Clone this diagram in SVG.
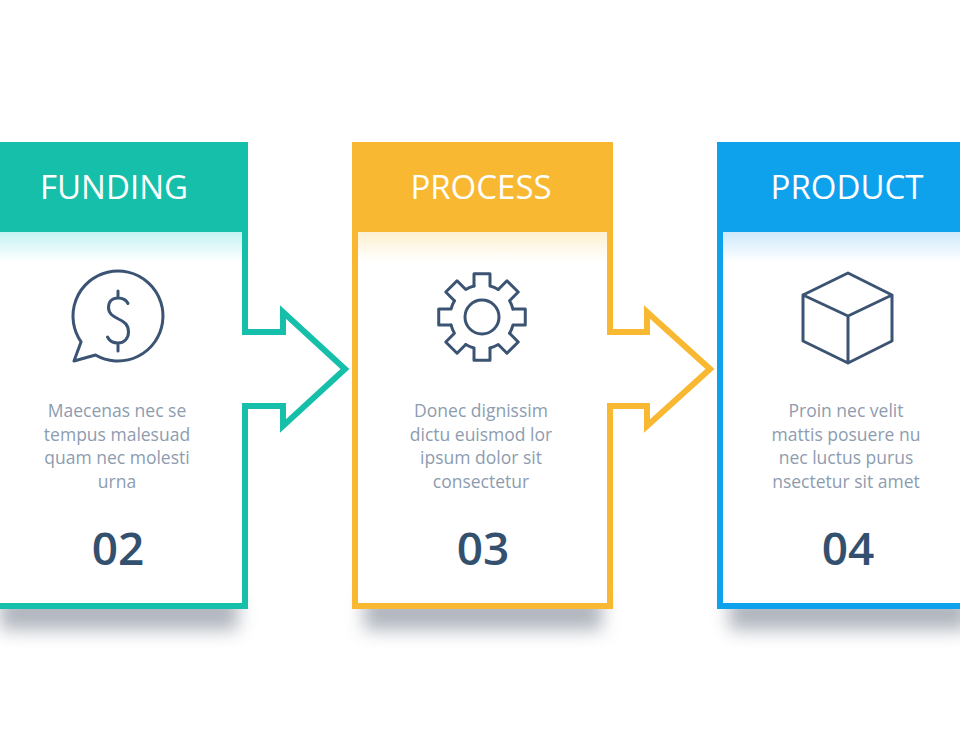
<svg xmlns="http://www.w3.org/2000/svg" width="960" height="750" viewBox="0 0 960 750">
<defs>
<style>
.box{fill:#ffffff;stroke-width:6;stroke-linejoin:miter}
.hdr{font-family:"Open Sans","Noto Sans",sans-serif;font-size:33px;fill:#ffffff;text-anchor:middle}
.body{font-family:"Open Sans","Noto Sans",sans-serif;font-size:17.5px;fill:#8d9caf;text-anchor:middle}
.num{font-family:"Open Sans","Noto Sans",sans-serif;font-size:46px;font-weight:600;fill:#34506f;text-anchor:middle}
.icon{fill:none;stroke:#3b5473;stroke-width:3;stroke-linejoin:round;stroke-linecap:round}
.shadow{fill:#8f96a3;filter:url(#blur)}
</style>
<filter id="blur" x="-20%" y="-100%" width="140%" height="300%"><feGaussianBlur stdDeviation="9"/></filter>
<linearGradient id="gTeal" x1="0" y1="0" x2="0" y2="1"><stop offset="0" stop-color="#c4f3f3"/><stop offset="1" stop-color="#ffffff"/></linearGradient>
<linearGradient id="gYel" x1="0" y1="0" x2="0" y2="1"><stop offset="0" stop-color="#fdf0cf"/><stop offset="1" stop-color="#ffffff"/></linearGradient>
<linearGradient id="gBlue" x1="0" y1="0" x2="0" y2="1"><stop offset="0" stop-color="#cde9fb"/><stop offset="1" stop-color="#ffffff"/></linearGradient>
<path id="tooth" d="M -8,-30.98 L -8,-43.27 L 8,-43.27 L 8,-30.98 A 32 32 0 0 1 16.25,-27.56"/>
</defs>
<rect width="960" height="750" fill="#ffffff"/>

<g id="shadows">
<rect class="shadow" x="0" y="596" width="238" height="34" opacity="0.7"/>
<rect class="shadow" x="364" y="596" width="238" height="34" opacity="0.7"/>
<rect class="shadow" x="729" y="596" width="240" height="34" opacity="0.7"/>
</g>

<g id="connectors"></g>

<g id="funding">
<path class="box" stroke="#16bfa9" d="M -20,145 L 245,145 L 245,332 L 283,332 L 283,312 L 345,369 L 283,426 L 283,406 L 245,406 L 245,606 L -20,606 Z"/>
<rect x="-10" y="232" width="252" height="30" fill="url(#gTeal)"/>
<rect x="-10" y="142" width="258" height="90" fill="#16bfa9"/>
<text class="hdr" x="114" y="199">FUNDING</text>
<path class="icon" d="M 95.5,355 A 45 45 0 1 0 81.1,341.8 L 74,361 Z"/>
<path class="icon" d="M 128,303.5 C 126,299.5 122.5,298 118,298 C 112,298 108.5,301.5 108.5,307.5 C 108.5,314 113.5,316.5 118.5,319 C 124,321.5 128.5,324.5 128.5,332 C 128.5,338.5 124,343 118,343 C 113,343 109.5,341 107.5,337 M 118,291 V 298 M 118,343 V 351"/>
<text class="body" x="117" y="417">Maecenas nec se</text>
<text class="body" x="117" y="440.5">tempus malesuad</text>
<text class="body" x="117" y="464">quam nec molesti</text>
<text class="body" x="117" y="487.5">urna</text>
<text class="num" x="118" y="565">02</text>
</g>

<g id="process">
<path class="box" stroke="#f9b831" d="M 355,145 L 610,145 L 610,332 L 647,332 L 647,312 L 710,369 L 647,426 L 647,406 L 610,406 L 610,606 L 355,606 Z"/>
<rect x="358" y="232" width="249" height="30" fill="url(#gYel)"/>
<rect x="352" y="142" width="261" height="90" fill="#f9b831"/>
<text class="hdr" x="481" y="199">PROCESS</text>
<g class="icon" transform="translate(482,317)">
<use href="#tooth"/>
<use href="#tooth" transform="rotate(45)"/>
<use href="#tooth" transform="rotate(90)"/>
<use href="#tooth" transform="rotate(135)"/>
<use href="#tooth" transform="rotate(180)"/>
<use href="#tooth" transform="rotate(225)"/>
<use href="#tooth" transform="rotate(270)"/>
<use href="#tooth" transform="rotate(315)"/>
<circle cx="0" cy="0" r="17"/>
</g>
<text class="body" x="481" y="417">Donec dignissim</text>
<text class="body" x="481" y="440.5">dictu euismod lor</text>
<text class="body" x="481" y="464">ipsum dolor sit</text>
<text class="body" x="481" y="487.5">consectetur</text>
<text class="num" x="483" y="565">03</text>
</g>

<g id="product">
<path class="box" stroke="#0ea1ec" d="M 720,145 L 980,145 L 980,606 L 720,606 Z"/>
<rect x="723" y="232" width="250" height="30" fill="url(#gBlue)"/>
<rect x="717" y="142" width="260" height="90" fill="#0ea1ec"/>
<text class="hdr" x="847" y="199">PRODUCT</text>
<path class="icon" d="M 848,273 L 892,295 L 892,341 L 848,363 L 803,341 L 803,295 Z M 803,295 L 848,316 L 892,295 M 848,316 L 848,363"/>
<text class="body" x="846" y="417">Proin nec velit</text>
<text class="body" x="846" y="440.5">mattis posuere nu</text>
<text class="body" x="846" y="464">nec luctus purus</text>
<text class="body" x="846" y="487.5">nsectetur sit amet</text>
<text class="num" x="848" y="565">04</text>
</g>
</svg>
